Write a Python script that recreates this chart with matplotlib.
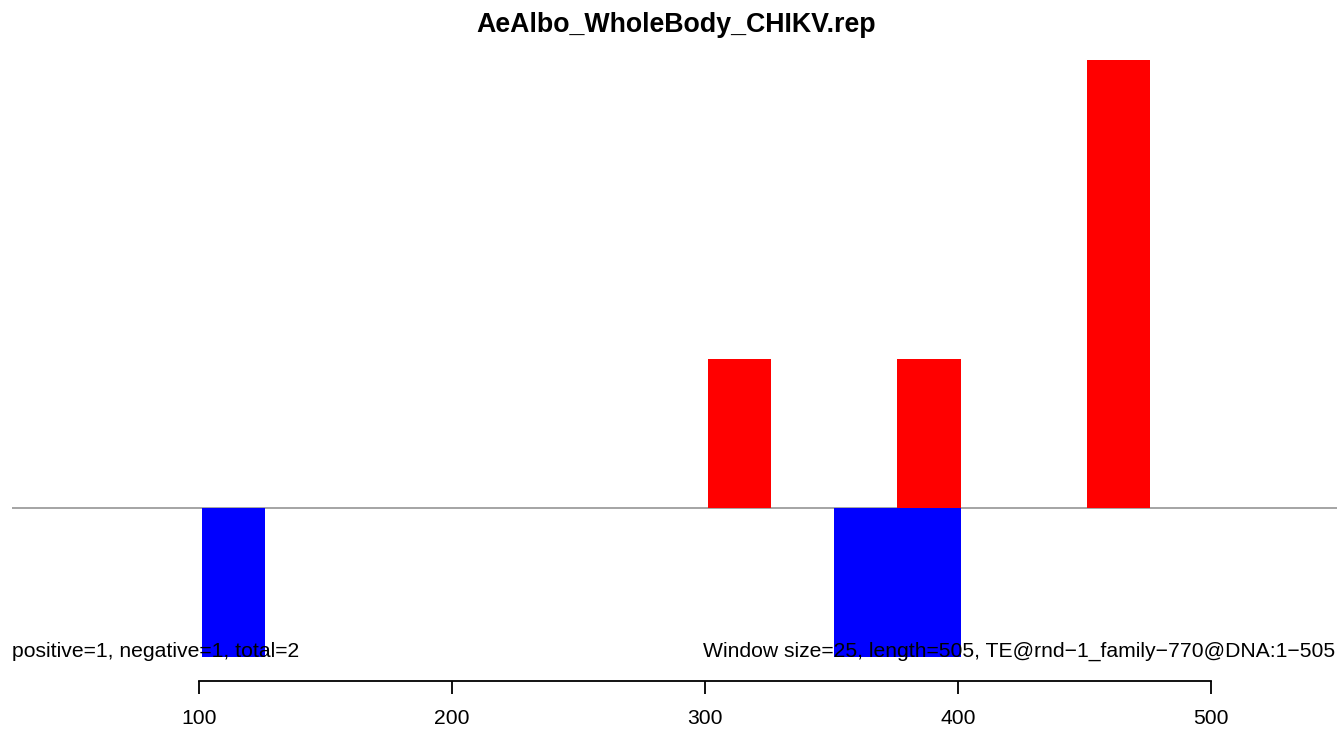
import matplotlib
matplotlib.use('Agg')
import matplotlib.pyplot as plt

plt.rcParams['font.family'] = ['Liberation Sans', 'DejaVu Sans']

# window starts (1-based, size 25) and counts
pos_start = [301, 376, 451]
pos_count = [1, 1, 3]
neg_start = [101, 351, 376]
neg_count = [-1, -1, -1]
window = 25
xticks = [100, 200, 300, 400, 500]

title = 'AeAlbo_WholeBody_CHIKV.rep'
left_text = 'positive=1, negative=1, total=2'
right_text = 'Window size=25, length=505, TE@rnd\u22121_family\u2212770@DNA:1\u2212505'

fig = plt.figure(figsize=(13.37, 7.29), dpi=100)
ax = fig.add_axes([12 / 1337, 48 / 729, 1325 / 1337, 645 / 729])

ax.bar(pos_start, pos_count, width=window, align='edge', color='red', zorder=2)
ax.bar(neg_start, neg_count, width=window, align='edge', color='blue', zorder=2)
ax.axhline(0, color='#8c8c8c', lw=1.1, zorder=1)

ax.set_xlim(26.09, 549.8)
ax.set_ylim(-1.16, 3.16)

ax.text(26.09, -0.962, left_text, fontsize=15.2, ha='left', va='center', zorder=3)
ax.text(299.2, -0.962, right_text, fontsize=15.2, ha='left', va='center', zorder=3)

for s in ['top', 'right', 'left']:
    ax.spines[s].set_visible(False)
ax.spines['bottom'].set_bounds(100, 500)
ax.spines['bottom'].set_linewidth(1.3)
ax.set_xticks(xticks)
ax.set_xticklabels([str(t) for t in xticks])
ax.tick_params(axis='x', length=9, width=1.3, labelsize=15.2, pad=11)
ax.set_yticks([])

fig.text(676 / 1337, 1 - 25 / 729, title, fontsize=19.3, fontweight='bold',
         ha='center', va='center')

fig.savefig('out.png', dpi=100)
